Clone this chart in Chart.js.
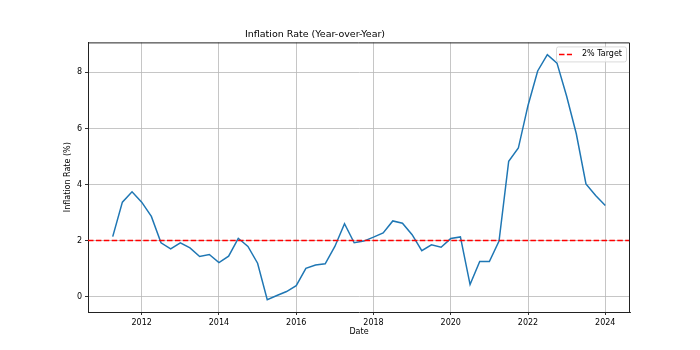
<!DOCTYPE html>
<html>
<head>
<meta charset="utf-8">
<script src="https://cdn.jsdelivr.net/npm/chart.js@4.4.1/dist/chart.umd.min.js"></script>
<style>
  html, body { margin: 0; padding: 0; background: #fff; }
  #wrap { width: 700px; height: 350px; }
</style>
</head>
<body>
<div id="wrap"><canvas id="graph"></canvas></div>
<script>
// quarterly dates (decimal years) and year-over-year inflation in %
const dates = [
  2011.25, 2011.5, 2011.75, 2012.0, 2012.25, 2012.5, 2012.75, 2013.0, 2013.25, 2013.5,
  2013.75, 2014.0, 2014.25, 2014.5, 2014.75, 2015.0, 2015.25, 2015.5, 2015.75, 2016.0,
  2016.25, 2016.5, 2016.75, 2017.0, 2017.25, 2017.5, 2017.75, 2018.0, 2018.25, 2018.5,
  2018.75, 2019.0, 2019.25, 2019.5, 2019.75, 2020.0, 2020.25, 2020.5, 2020.75, 2021.0,
  2021.25, 2021.5, 2021.75, 2022.0, 2022.25, 2022.5, 2022.75, 2023.0, 2023.25, 2023.5,
  2023.75, 2024.0
];
const inflation = [
  2.14, 3.37, 3.74, 3.37, 2.86, 1.92, 1.70, 1.92, 1.74, 1.43,
  1.50, 1.21, 1.44, 2.08, 1.79, 1.19, -0.11, 0.04, 0.18, 0.39,
  1.01, 1.13, 1.17, 1.79, 2.60, 1.92, 1.98, 2.12, 2.27, 2.70,
  2.62, 2.21, 1.64, 1.85, 1.76, 2.07, 2.13, 0.43, 1.25, 1.25,
  1.98, 4.83, 5.30, 6.82, 8.05, 8.63, 8.33, 7.15, 5.81, 4.02,
  3.61, 3.25
];
const targetRate = 2;
const xTicks = [2012, 2014, 2016, 2018, 2020, 2022, 2024];
const yTicks = [0, 2, 4, 6, 8];

const xMin = 2010.61, xMax = 2024.64;
const yMin = -0.55, yMax = 9.07;

const font = { family: 'DejaVu Sans', size: 8 };

// top/right spines and the matplotlib-like legend box
const frameLegend = {
  id: 'frameLegend',
  afterDatasetsDraw(chart) {
    const c = chart.ctx;
    const a = chart.chartArea;
    c.save();
    c.strokeStyle = '#222';
    c.lineWidth = 1;
    c.beginPath();
    c.moveTo(a.left, a.top + 0.5);
    c.lineTo(a.right - 0.5, a.top + 0.5);
    c.lineTo(a.right - 0.5, a.bottom);
    c.stroke();

    const ds = chart.data.datasets[0];
    const w = 70, h = 15;
    const bx = a.right - 4 - w, by = a.top + 4;
    c.beginPath();
    c.roundRect(bx + 0.5, by + 0.5, w, h, 2);
    c.fillStyle = 'rgba(255,255,255,0.8)';
    c.fill();
    c.strokeStyle = '#d0d0d0';
    c.lineWidth = 0.8;
    c.stroke();

    const my = by + h / 2 + 0.5;
    c.beginPath();
    c.setLineDash(ds.borderDash);
    c.strokeStyle = ds.borderColor;
    c.lineWidth = ds.borderWidth;
    c.moveTo(bx + 3, my);
    c.lineTo(bx + 16, my);
    c.stroke();
    c.setLineDash([]);

    c.fillStyle = '#000';
    c.font = '8px "DejaVu Sans"';
    c.textBaseline = 'middle';
    c.fillText(ds.label, bx + 26, my);
    c.restore();
  }
};

new Chart(document.getElementById('graph'), {
  type: 'line',
  data: {
    datasets: [{
      label: '2% Target',
      data: [{ x: xMin, y: targetRate }, { x: xMax, y: targetRate }],
      borderColor: '#ff0000',
      borderWidth: 1.5,
      borderDash: [5.5, 2.4],
      pointRadius: 0
    }, {
      label: 'Inflation',
      data: dates.map((d, i) => ({ x: d, y: inflation[i] })),
      borderColor: '#1f77b4',
      borderWidth: 1.5,
      pointRadius: 0,
      tension: 0
    }]
  },
  options: {
    responsive: true,
    maintainAspectRatio: false,
    animation: false,
    devicePixelRatio: 1,
    layout: { padding: { left: 0, right: 70, top: 0, bottom: 0 } },
    plugins: {
      legend: { display: false },
      tooltip: { enabled: false },
      title: {
        display: true,
        text: 'Inflation Rate (Year-over-Year)',
        color: '#000',
        font: { family: 'DejaVu Sans', size: 9.5, weight: 'normal' },
        padding: { top: 29, bottom: 2 }
      }
    },
    scales: {
      x: {
        type: 'linear',
        min: xMin,
        max: xMax,
        afterBuildTicks: s => { s.ticks = xTicks.map(v => ({ value: v })); },
        afterFit: s => { s.height = 38; },
        ticks: { font: font, color: '#000', padding: 3, autoSkip: false, maxRotation: 0, callback: v => String(v) },
        grid: { color: '#b8b8b8', lineWidth: 0.8, tickColor: '#000', tickLength: 3 },
        border: { color: '#222', width: 1 },
        title: { display: true, text: 'Date', color: '#000', font: font, padding: { top: 0, bottom: 13 } }
      },
      y: {
        min: yMin,
        max: yMax,
        afterBuildTicks: s => { s.ticks = yTicks.map(v => ({ value: v })); },
        afterFit: s => { s.width = 88; },
        ticks: { font: font, color: '#000', padding: 3, autoSkip: false, callback: v => String(v) },
        grid: { color: '#b8b8b8', lineWidth: 0.8, tickColor: '#000', tickLength: 3 },
        border: { color: '#222', width: 1 },
        title: { display: true, text: 'Inflation Rate (%)', color: '#000', font: font, padding: { top: 63.5, bottom: 0 } }
      }
    }
  },
  plugins: [frameLegend]
});
</script>
</body>
</html>
